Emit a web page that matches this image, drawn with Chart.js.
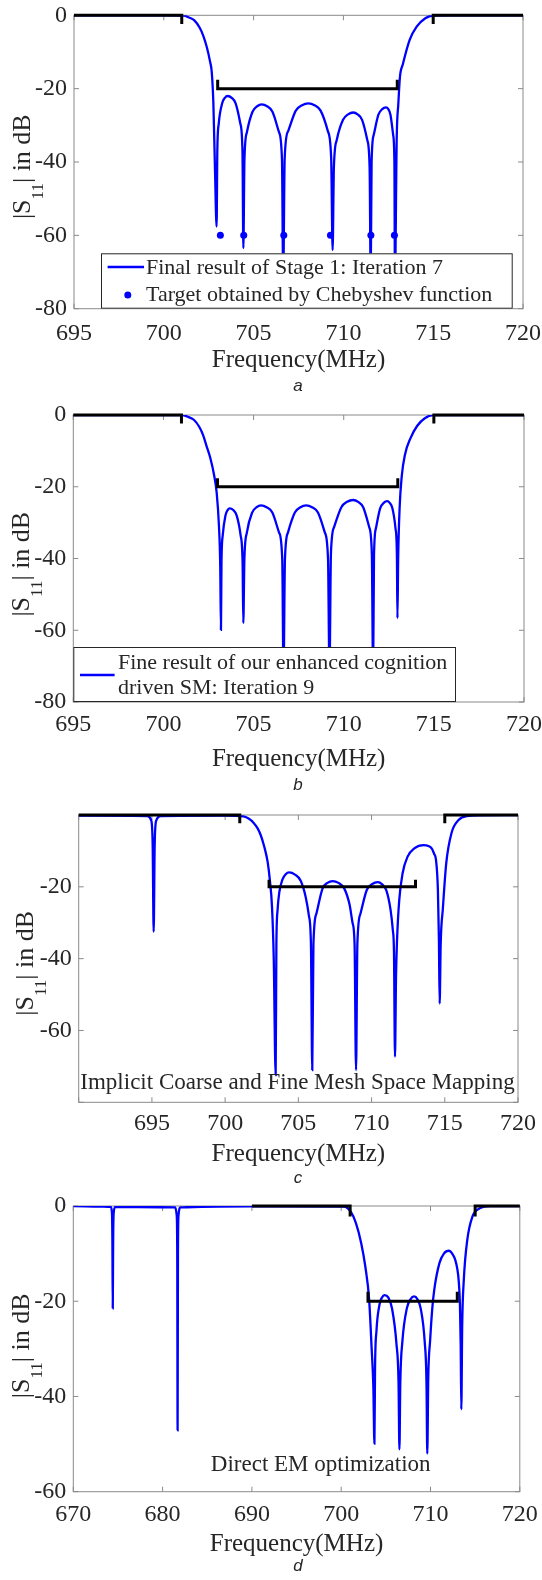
<!DOCTYPE html>
<html lang="en">
<head>
    <meta charset="UTF-8">
    <title>|S11| responses a-d</title>
    <script src="https://cdn.jsdelivr.net/npm/chart.js"></script>
    <style>
        html, body { margin: 0; padding: 0; background: #fff; }
        #wrap { position: relative; width: 542px; height: 1580px; }
        .panel { position: absolute; left: 0; width: 542px; height: 395px; }
    </style>
</head>
<body>
<div id="wrap">
    <div class="panel" style="top:0px"><canvas id="chartA"></canvas></div>
    <div class="panel" style="top:395px"><canvas id="chartB"></canvas></div>
    <div class="panel" style="top:790px"><canvas id="chartC"></canvas></div>
    <div class="panel" style="top:1185px"><canvas id="chartD"></canvas></div>
</div>
<script>
// ---------- data (MHz, dB) ----------
// a: Final result of Stage 1, iteration 7
const freqA = [695, 700, 701.1, 701.4, 701.7, 702.0, 702.2, 702.4, 702.57, 702.67, 702.76, 702.85, 702.94,
    702.98, 703.06, 703.25, 703.4, 703.56, 703.78, 704.0, 704.26, 704.38, 704.43,
    704.49, 704.63, 704.94, 705.2, 705.45, 705.75, 706.05, 706.41, 706.58, 706.65,
    706.73, 706.93, 707.35, 707.7, 708.05, 708.39, 708.73, 709.13, 709.32, 709.4,
    709.47, 709.63, 709.98, 710.26, 710.55, 710.79, 711.04, 711.33, 711.46, 711.52,
    711.57, 711.69, 711.95, 712.16, 712.37, 712.5, 712.62, 712.77, 712.84, 712.87,
    712.97, 713.06, 713.15, 713.3, 713.69, 714.08, 714.56, 715.0, 716, 720];
const s11A = [0, 0, -0.05, -0.6, -1.4, -3.4, -5.6, -8.8, -12.5, -15.5, -24, -42, -57.6,
    -37, -29.5, -24, -22.5, -22.0, -22.5, -24, -29.5, -37, -63.5,
    -39.3, -31.8, -26.3, -24.8, -24.3, -24.8, -26.3, -31.8, -39.3, -72,
    -39, -31.5, -26, -24.5, -24.0, -24.5, -26, -31.5, -39, -64.0,
    -41.5, -34, -28.5, -27, -26.5, -27, -28.5, -34, -41.5, -72,
    -40, -32.6, -27.1, -25.6, -25.1, -25.6, -27.1, -32.6, -40, -72,
    -33.1, -24, -16.7, -13.5, -6.7, -3.1, -0.8, -0.05, 0, 0];
const targetFreqA = [703.15, 704.45, 706.68, 709.28, 711.53, 712.84];
const targetS11A = [-60, -60, -60, -60, -60, -60];

// b: Fine result, iteration 9
const freqB = [695, 700, 701.07, 701.4, 701.7, 702.0, 702.2, 702.4, 702.6, 702.8, 702.95, 703.08, 703.15, 703.19,
    703.22, 703.29, 703.44, 703.56, 703.68, 703.87, 704.06, 704.28, 704.39, 704.43,
    704.49, 704.63, 704.92, 705.17, 705.41, 705.72, 706.04, 706.41, 706.59, 706.66,
    706.74, 706.91, 707.29, 707.6, 707.92, 708.24, 708.57, 708.95, 709.13, 709.21,
    709.29, 709.47, 709.87, 710.19, 710.52, 710.8, 711.08, 711.41, 711.56, 711.63,
    711.68, 711.79, 712.02, 712.22, 712.41, 712.55, 712.7, 712.87, 712.95, 712.98,
    713.02, 713.1, 713.22, 713.4, 713.7, 714.08, 714.5, 714.96, 716, 720];
const s11B = [0, 0, -0.05, -0.6, -1.4, -3.4, -5.6, -8.8, -12, -16.5, -21.5, -31, -42, -59.9,
    -41, -33.5, -28, -26.5, -26.0, -26.5, -28, -33.5, -41, -58,
    -40.2, -32.7, -27.2, -25.7, -25.2, -25.7, -27.2, -32.7, -40.2, -72,
    -40.2, -32.7, -27.2, -25.7, -25.2, -25.7, -27.2, -32.7, -40.2, -72,
    -38.7, -31.2, -25.7, -24.2, -23.7, -24.2, -25.7, -31.2, -38.7, -72,
    -39, -31.5, -26, -24.5, -24.0, -24.5, -26, -31.5, -39, -56.6,
    -40, -26, -17, -11, -6.5, -3, -0.9, -0.05, 0, 0];

// c: Implicit coarse and fine mesh SM
const freqC = [690, 694.7, 694.95, 695.05, 695.12, 695.19, 695.3, 695.6, 700, 701.23, 701.6, 701.95, 702.2, 702.42, 702.65, 702.9, 703.05, 703.2, 703.32, 703.45,
    703.5, 703.58, 703.7, 703.91, 704.14, 704.37, 704.77, 705.16, 705.5, 705.72, 705.86, 705.95,
    706.03, 706.23, 706.65, 706.99, 707.34, 707.74, 708.14, 708.5, 708.7, 708.84, 708.94,
    709.03, 709.24, 709.68, 710.05, 710.42, 710.72, 711.01, 711.3, 711.45, 711.53, 711.6,
    711.67, 711.74, 711.89, 712.12, 712.46, 712.92, 713.56, 714.11, 714.27, 714.4, 714.53, 714.6, 714.65,
    714.72, 714.87, 715.1, 715.46, 715.94, 716.5, 717.5, 720];
const s11C = [-0.2, -0.3, -1.5, -8, -32.5, -8, -1.5, -0.3, -0.2, -0.4, -1.0, -2.2, -3.6, -5.5, -8.5, -13, -18, -25.5, -40, -72.4,
    -36, -26.5, -21.5, -18, -16.5, -16.0, -16.6, -18.3, -22.8, -28, -36, -71,
    -36, -27.5, -20.5, -18.9, -18.4, -18.9, -20.5, -25, -30, -36, -71,
    -36, -27.5, -20.8, -19.2, -18.7, -19.3, -21, -26.5, -32, -38, -67.3,
    -45, -34.8, -23.7, -16.2, -11.6, -9.3, -8.4, -9.3, -10.8, -12.5, -20.9, -34.8, -52.5,
    -36, -26, -13.4, -5.0, -1.4, -0.3, -0.1, 0];

// d: Direct EM optimization
const freqD = [670, 674.2, 674.33, 674.38, 674.42, 674.46, 674.52, 674.7, 681.4, 681.58, 681.64, 681.68, 681.72, 681.78, 682.0,
    690, 700.29, 701.07, 701.65, 702.24, 702.7, 703.13, 703.4, 703.6, 703.72,
    703.79, 703.95, 704.29, 704.57, 704.85, 705.27, 705.69, 706.19, 706.42, 706.52,
    706.62, 706.85, 707.35, 707.76, 708.17, 708.54, 708.9, 709.35, 709.55, 709.64,
    709.75, 709.96, 710.2, 710.42, 711.0, 711.5, 712.06, 712.5, 712.77, 713.0, 713.15, 713.3, 713.38, 713.45,
    713.55, 713.73, 714.12, 714.7, 715.5, 716.7, 720];
const s11D = [0, -0.2, -1.5, -8, -21.5, -8, -1.5, -0.2, -0.3, -2, -10, -47.1, -10, -2, -0.3,
    -0.05, -0.1, -1.2, -3.6, -7.8, -12.7, -19.7, -29.6, -38, -49.9,
    -34, -26.2, -20.7, -19.2, -18.7, -19.2, -21.5, -29, -37, -51.1,
    -37, -28.5, -21.5, -19.6, -19.0, -19.6, -21.5, -28.5, -37, -52.0,
    -36, -28.2, -21.5, -17.6, -12.0, -10.0, -9.4, -10.2, -11.3, -13.2, -15.5, -21, -29, -42.7,
    -25, -15.5, -7.1, -2.2, -0.5, 0, 0];

// spec masks (null = break)
const specFreqAB = [695, 701, 701, null, 715, 715, 720, null, 703, 703, 713, 713];
const specS11AB = [0, 0, -2.4, null, -2.4, 0, 0, null, -17.6, -20, -20, -17.6];
const specFreqCD = [690, 701, 701, null, 715, 715, 720, null, 703, 703, 713, 713];
const specS11C = [0, 0, -2.3, null, -2.3, 0, 0, null, -18, -20, -20, -18];
const specS11D = [0, 0, -2.2, null, -2.2, 0, 0, null, -18, -20, -20, -18];

// ticks
const xTicksAB = [695, 700, 705, 710, 715, 720];
const xTicksC = [690, 695, 700, 705, 710, 715, 720];
const xLabelsC = [695, 700, 705, 710, 715, 720];
const xTicksD = [670, 680, 690, 700, 710, 720];
const yTicks80 = [-80, -60, -40, -20, 0];
const yLabelsC = [-60, -40, -20];
const yTicks60 = [-60, -40, -20, 0];

// ---------- styling ----------
const SERIF = "'Liberation Serif', 'Times New Roman', serif";
const AXIS_GRAY = '#8a8a8a';
const DARK = '#262626';
const BLUE = '#0000ff';
const H = 395;

function pairs(xs, ys) {
    return xs.map((x, i) => ({ x: x, y: ys[i] }));
}

const frame = {
    id: 'frame',
    beforeDatasetsDraw(chart) {
        const { ctx, chartArea: a, scales } = chart;
        ctx.save();
        ctx.strokeStyle = AXIS_GRAY;
        ctx.lineWidth = 1;
        ctx.strokeRect(a.left, a.top, a.width, a.height);
        ctx.beginPath();
        scales.x.ticks.forEach(t => {
            const p = scales.x.getPixelForValue(t.value);
            ctx.moveTo(p, a.bottom); ctx.lineTo(p, a.bottom - 5);
            ctx.moveTo(p, a.top); ctx.lineTo(p, a.top + 5);
        });
        scales.y.ticks.forEach(t => {
            const p = scales.y.getPixelForValue(t.value);
            ctx.moveTo(a.left, p); ctx.lineTo(a.left + 5, p);
            ctx.moveTo(a.right, p); ctx.lineTo(a.right - 5, p);
        });
        ctx.stroke();
        ctx.restore();
    },
    afterDraw(chart, args, o) {
        const { ctx, chartArea: a } = chart;
        ctx.save();
        ctx.fillStyle = DARK;

        // y title with subscript
        ctx.save();
        ctx.translate(o.yTitleX, (a.top + a.bottom) / 2 + o.yTitleShift);
        ctx.rotate(-Math.PI / 2);
        ctx.textBaseline = 'alphabetic';
        const big = '26px ' + SERIF, small = '17px ' + SERIF;
        ctx.font = big; const w1 = ctx.measureText('|S').width; const w3 = ctx.measureText('| in dB').width;
        ctx.font = small; const w2 = ctx.measureText('11').width;
        let x0 = -(w1 + w2 + w3) / 2;
        ctx.font = big; ctx.fillText('|S', x0, 0);
        ctx.font = small; ctx.fillText('11', x0 + w1, 13);
        ctx.font = big; ctx.fillText('| in dB', x0 + w1 + w2, 0);
        ctx.restore();

        // legend box
        if (o.legend) {
            const L = o.legend;
            ctx.fillStyle = '#fff';
            ctx.fillRect(L.left, L.top, L.right - L.left, L.bottom - L.top);
            ctx.strokeStyle = DARK;
            ctx.lineWidth = 1;
            ctx.strokeRect(L.left + 0.5, L.top + 0.5, L.right - L.left - 1, L.bottom - L.top - 1);
            ctx.strokeStyle = BLUE;
            ctx.lineWidth = 2.3;
            ctx.beginPath();
            ctx.moveTo(L.lineX[0], L.lineY); ctx.lineTo(L.lineX[1], L.lineY);
            ctx.stroke();
            if (L.dot) {
                ctx.fillStyle = BLUE;
                ctx.beginPath();
                ctx.arc(L.dot[0], L.dot[1], 3.5, 0, Math.PI * 2);
                ctx.fill();
            }
            ctx.fillStyle = DARK;
            ctx.font = '22px ' + SERIF;
            ctx.textBaseline = 'middle';
            ctx.textAlign = 'left';
            L.rows.forEach(r => ctx.fillText(r[0], L.textX, r[1]));
        }

        // plain note inside the axes
        if (o.note) {
            ctx.fillStyle = DARK;
            ctx.font = '23px ' + SERIF;
            ctx.textBaseline = 'middle';
            ctx.textAlign = 'center';
            ctx.fillText(o.note.text, o.note.x, o.note.y);
        }

        // caption letter
        ctx.fillStyle = DARK;
        ctx.font = 'italic 17px "Liberation Sans", Arial, sans-serif';
        ctx.textBaseline = 'middle';
        ctx.textAlign = 'center';
        ctx.fillText(o.caption, 298, o.captionY);
        ctx.restore();
    }
};

function makeChart(id, p) {
    const datasets = [
        {
            data: pairs(p.specF, p.specS), borderColor: '#000', borderWidth: 3,
            pointRadius: 0, tension: 0, spanGaps: false, clip: false
        }
    ];
    if (p.targetF) {
        datasets.push({
            data: pairs(p.targetF, p.targetS), showLine: false, pointRadius: 3.5,
            pointBackgroundColor: BLUE, pointBorderWidth: 0, borderColor: BLUE
        });
    }
    datasets.push({
        data: pairs(p.freq, p.s11), borderColor: BLUE, borderWidth: 2.3, pointRadius: 0,
        cubicInterpolationMode: 'monotone', fill: false
    });

    return new Chart(document.getElementById(id), {
        type: 'line',
        data: { datasets: datasets },
        options: {
            responsive: true,
            maintainAspectRatio: false,
            animation: false,
            events: [],
            layout: { padding: { top: p.box.top, right: 542 - p.box.right, left: 0, bottom: 0 } },
            plugins: { legend: { display: false }, tooltip: { enabled: false }, frame: p.deco },
            scales: {
                x: {
                    type: 'linear',
                    min: p.xTicks[0],
                    max: p.xTicks[p.xTicks.length - 1],
                    grid: { display: false, drawTicks: false },
                    border: { display: false },
                    afterBuildTicks: s => { s.ticks = p.xTicks.map(v => ({ value: v })); },
                    ticks: {
                        autoSkip: false, maxRotation: 0, color: DARK, padding: p.xTickPad,
                        font: { family: SERIF, size: 24 },
                        callback: v => (p.xLabels.includes(v) ? String(v) : '')
                    },
                    title: {
                        display: true, text: 'Frequency(MHz)', color: DARK,
                        font: { family: SERIF, size: 25 }, padding: { top: 0, bottom: p.xTitlePad }
                    },
                    afterFit: s => { s.height = H - p.box.bottom; s.paddingLeft = 0; s.paddingRight = 0; }
                },
                y: {
                    type: 'linear',
                    min: p.yTicks[0],
                    max: p.yTicks[p.yTicks.length - 1],
                    grid: { display: false, drawTicks: false },
                    border: { display: false },
                    afterBuildTicks: s => { s.ticks = p.yTicks.map(v => ({ value: v })); },
                    ticks: {
                        autoSkip: false, color: DARK, padding: 7,
                        font: { family: SERIF, size: 24 },
                        callback: v => (p.yLabels.includes(v) ? String(v) : '')
                    },
                    afterFit: s => { s.width = p.box.left; s.paddingTop = 0; s.paddingBottom = 0; }
                }
            }
        },
        plugins: [frame]
    });
}

makeChart('chartA', {
    freq: freqA, s11: s11A, targetF: targetFreqA, targetS: targetS11A,
    specF: specFreqAB, specS: specS11AB,
    xTicks: xTicksAB, xLabels: xTicksAB, yTicks: yTicks80, yLabels: yTicks80,
    box: { left: 74, right: 523, top: 15.3, bottom: 308.7 },
    xTickPad: 10.6, xTitlePad: 19.2,
    deco: {
        yTitleX: 30, yTitleShift: 4.7, caption: 'a', captionY: 386.7,
        legend: {
            left: 101, top: 253.3, right: 512.7, bottom: 308.7,
            lineX: [107.6, 144], lineY: 267, dot: [127.8, 295], textX: 146,
            rows: [['Final result of Stage 1: Iteration 7', 268.3], ['Target obtained by Chebyshev function', 295]]
        }
    }
});

makeChart('chartB', {
    freq: freqB, s11: s11B,
    specF: specFreqAB, specS: specS11AB,
    xTicks: xTicksAB, xLabels: xTicksAB, yTicks: yTicks80, yLabels: yTicks80,
    box: { left: 73.3, right: 524, top: 20, bottom: 307 },
    xTickPad: 8.5, xTitlePad: 15.5,
    deco: {
        yTitleX: 29.3, yTitleShift: 5.7, caption: 'b', captionY: 390,
        legend: {
            left: 73.3, top: 252, right: 456, bottom: 307,
            lineX: [80, 114.6], lineY: 280, textX: 118,
            rows: [['Fine result of our enhanced cognition', 268.3], ['driven SM: Iteration 9', 293.3]]
        }
    }
});

makeChart('chartC', {
    freq: freqC, s11: s11C,
    specF: specFreqCD, specS: specS11C,
    xTicks: xTicksC, xLabels: xLabelsC, yTicks: yTicks80, yLabels: yLabelsC,
    box: { left: 78.7, right: 518, top: 25, bottom: 312.3 },
    xTickPad: 7.3, xTitlePad: 15.5,
    deco: {
        yTitleX: 33.3, yTitleShift: 4.7, caption: 'c', captionY: 388,
        note: { text: 'Implicit Coarse and Fine Mesh Space Mapping', x: 297.5, y: 293.3 }
    }
});

makeChart('chartD', {
    freq: freqD, s11: s11D,
    specF: specFreqCD, specS: specS11D,
    xTicks: xTicksD, xLabels: xTicksD, yTicks: yTicks60, yLabels: yTicks60,
    box: { left: 73.3, right: 519.8, top: 21, bottom: 306.7 },
    xTickPad: 8.9, xTitlePad: 21,
    deco: {
        yTitleX: 29.3, yTitleShift: -3, caption: 'd', captionY: 381.7,
        note: { text: 'Direct EM optimization', x: 320.7, y: 280 }
    }
});
</script>
</body>
</html>
